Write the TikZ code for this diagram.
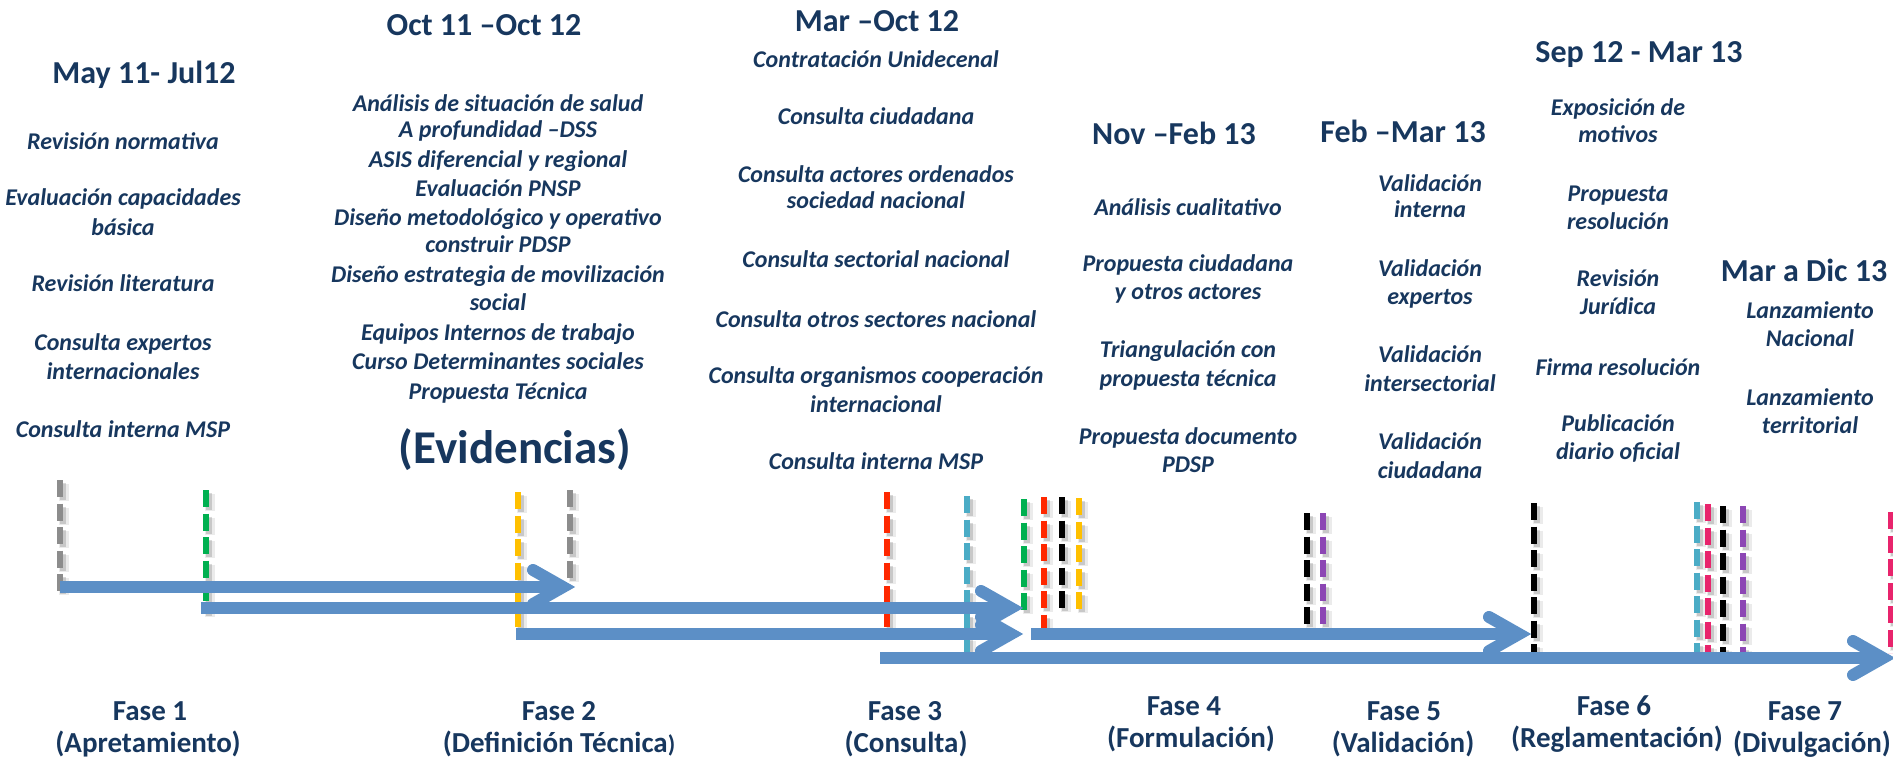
\documentclass[tikz,border=0pt]{standalone}
\usepackage{fontspec}
\setmainfont{Carlito}
\usetikzlibrary{calc}
\definecolor{navy}{RGB}{23,55,94}
\definecolor{arrowblue}{RGB}{92,143,198}
\definecolor{dgray}{RGB}{140,140,140}
\definecolor{dgreen}{RGB}{0,176,80}
\definecolor{dyellow}{RGB}{255,192,0}
\definecolor{dred}{RGB}{255,40,0}
\definecolor{dcyan}{RGB}{75,172,198}
\definecolor{dpink}{RGB}{232,36,108}
\definecolor{dpurple}{RGB}{140,70,180}
\newcommand\dmark[4]{%
  \draw[dshadowA] (#2+4,#3+4) -- (#2+4,#4+4);
  \draw[dshadowB] (#2+3,#3+3) -- (#2+3,#4+3);
  \draw[dline, draw=#1] (#2,#3) -- (#2,#4);}
\newcommand\blarrow[2]{%
  \draw[shaft] (#1) -- ($(#2)+(-14,0)$);
  \draw[chev] ($(#2)+(-42,-17)$) -- ($(#2)+(-12,0)$) -- ($(#2)+(-42,17)$);}
\begin{document}
\begin{tikzpicture}[x=1pt,y=-1pt,
  hdr/.style={anchor=base, text=navy, font=\fontsize{32}{38}\selectfont\bfseries, inner sep=0pt},
  item/.style={anchor=base, text=navy, font=\fontsize{24}{29}\selectfont\bfseries\itshape, inner sep=0pt},
  fase/.style={anchor=base, text=navy, font=\fontsize{29}{35}\selectfont\bfseries, inner sep=0pt},
  shaft/.style={draw=arrowblue, line width=12pt},
  chev/.style={draw=arrowblue, line width=12pt, line cap=round, line join=miter},
  dline/.style={line width=5.3pt, dash pattern=on 17pt off 6.5pt},
  dshadowA/.style={line width=10pt, dash pattern=on 17pt off 6.5pt, draw=black, opacity=0.08},
  dshadowB/.style={line width=6pt, dash pattern=on 17pt off 6.5pt, draw=black, opacity=0.15},
]
\useasboundingbox (0,0) rectangle (1893,759);

% dashed markers
\dmark{dgray}{60}{480}{592}
\dmark{dgreen}{206}{490}{613}
\dmark{dyellow}{518}{492}{628}
\dmark{dgray}{570}{490}{583}
\dmark{dred}{887}{492}{628}
\dmark{dcyan}{967}{496}{653}
\dmark{dgreen}{1024}{499}{611}
\dmark{dred}{1044}{497}{630}
\dmark{black}{1062}{497}{611}
\dmark{dyellow}{1079}{498}{611}
\dmark{black}{1307}{513}{629}
\dmark{dpurple}{1323}{513}{629}
\dmark{black}{1534}{503}{653}
\dmark{dcyan}{1697}{502}{653}
\dmark{dpink}{1708}{504}{653}
\dmark{black}{1723}{506}{653}
\dmark{dpurple}{1743}{506}{653}
\dmark{dpink}{1891}{512}{653}

% arrows
\coordinate (a1s) at (60,587);   \coordinate (a1t) at (575,587);
\coordinate (a2s) at (201,608);  \coordinate (a2t) at (1023,608);
\coordinate (a3s) at (516,634);  \coordinate (a3t) at (1023,634);
\coordinate (a5s) at (1031,634); \coordinate (a5t) at (1531,634);
\coordinate (a4s) at (880,658);  \coordinate (a4t) at (1895,658);
\blarrow{a1s}{a1t}
\blarrow{a2s}{a2t}
\blarrow{a3s}{a3t}
\blarrow{a4s}{a4t}
\blarrow{a5s}{a5t}

% headers
\node[hdr] (h1) at (144,84) {May 11- Jul12};
\node[hdr] (h2) at (484,36) {Oct 11 –Oct 12};
\node[hdr] (h3) at (877,32) {Mar –Oct 12};
\node[hdr] (h4) at (1174,145) {Nov –Feb 13};
\node[hdr] (h5) at (1403,143) {Feb –Mar 13};
\node[hdr] (h6) at (1639,63) {Sep 12 - Mar 13};
\node[hdr] (h7) at (1804,282) {Mar a Dic 13};
\node[anchor=base, text=navy, font=\fontsize{47}{56}\selectfont\bfseries, inner sep=0pt] (ev) at (515,463) {(Evidencias)};

% column 1
\foreach \yy/\txt [count=\i] in {150/Revisión normativa, 206/Evaluación capacidades, 236/básica,
  292/Revisión literatura, 350/Consulta expertos, 379/internacionales, 437/Consulta interna MSP}
  \node[item] (c1-\i) at (123,\yy) {\txt};
% column 2
\foreach \yy/\txt [count=\i] in {112/Análisis de situación de salud, 138/A profundidad –DSS,
  168/ASIS diferencial y regional, 197/Evaluación PNSP, 226/Diseño metodológico y operativo,
  253/construir PDSP, 283/Diseño estrategia de movilización, 311/social,
  341/Equipos Internos de trabajo, 370/Curso Determinantes sociales, 399/Propuesta Técnica}
  \node[item] (c2-\i) at (498,\yy) {\txt};
% column 3
\foreach \yy/\txt [count=\i] in {68/Contratación Unidecenal, 125/Consulta ciudadana,
  183/Consulta actores ordenados, 209/sociedad nacional, 268/Consulta sectorial nacional,
  327/Consulta otros sectores nacional, 383/Consulta organismos cooperación, 412/internacional,
  469/Consulta interna MSP}
  \node[item] (c3-\i) at (876,\yy) {\txt};
% column 4
\foreach \yy/\txt [count=\i] in {216/Análisis cualitativo, 272/Propuesta ciudadana, 300/y otros actores,
  357/Triangulación con, 386/propuesta técnica, 444/Propuesta documento, 472/PDSP}
  \node[item] (c4-\i) at (1188,\yy) {\txt};
% column 5
\foreach \yy/\txt [count=\i] in {192/Validación, 218/interna, 277/Validación, 305/expertos,
  362/Validación, 391/intersectorial, 449/Validación, 478/ciudadana}
  \node[item] (c5-\i) at (1430,\yy) {\txt};
% column 6
\foreach \yy/\txt [count=\i] in {116/Exposición de, 143/motivos, 202/Propuesta, 230/resolución,
  287/Revisión, 315/Jurídica, 375/Firma resolución, 431/Publicación, 459/diario oficial}
  \node[item] (c6-\i) at (1618,\yy) {\txt};
% column 7
\foreach \yy/\txt [count=\i] in {319/Lanzamiento, 346/Nacional, 405/Lanzamiento, 433/territorial}
  \node[item] (c7-\i) at (1810,\yy) {\txt};

% phases
\node[fase] (f1a) at (150,720) {Fase 1};
\node[fase] (f1b) at (148,752) {(Apretamiento)};
\node[fase] (f2a) at (559,720) {Fase 2};
\node[fase] (f2b) at (559,752) {(Definición Técnica{\fontsize{24}{29}\selectfont)}};
\node[fase] (f3a) at (905,720) {Fase 3};
\node[fase] (f3b) at (906,752) {(Consulta)};
\node[fase] (f4a) at (1184,715) {Fase 4};
\node[fase] (f4b) at (1191,747) {(Formulación)};
\node[fase] (f5a) at (1404,720) {Fase 5};
\node[fase] (f5b) at (1403,752) {(Validación)};
\node[fase] (f6a) at (1614,715) {Fase 6};
\node[fase] (f6b) at (1617,747) {(Reglamentación)};
\node[fase] (f7a) at (1805,720) {Fase 7};
\node[fase] (f7b) at (1812,752) {(Divulgación)};
\end{tikzpicture}
\end{document}
